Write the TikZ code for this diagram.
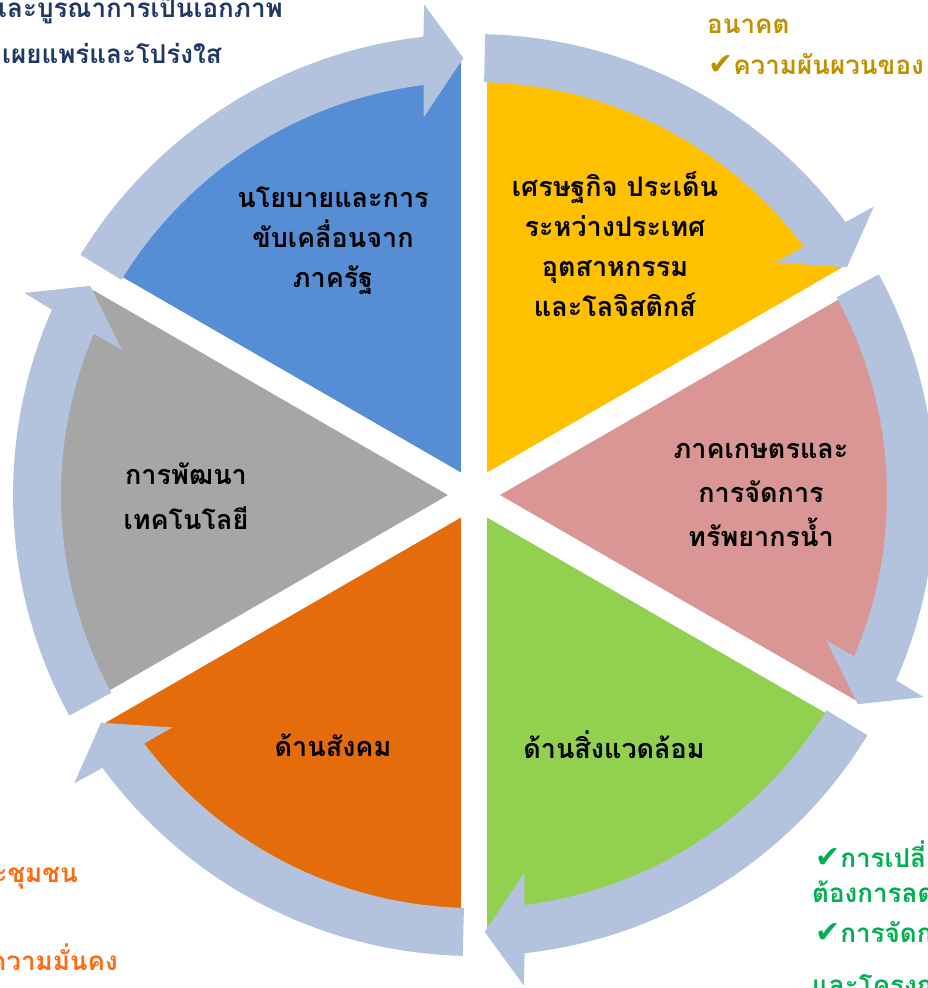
\documentclass[tikz,border=0pt]{standalone}
\usepackage{fontspec}
\newfontfamily\thai[Script=Thai]{Loma}
\newfontfamily\sym{DejaVu Sans}
\usetikzlibrary{calc}
\definecolor{cblue}{HTML}{558ED5}
\definecolor{cyellow}{HTML}{FFC000}
\definecolor{cpink}{HTML}{D99694}
\definecolor{cgreen}{HTML}{92D050}
\definecolor{corange}{HTML}{E46C0A}
\definecolor{cgray}{HTML}{A6A6A6}
\definecolor{carrow}{HTML}{B3C2DD}
\definecolor{tnavy}{HTML}{1F3864}
\definecolor{tgold}{HTML}{BF9000}
\definecolor{torange}{HTML}{FF6A13}
\definecolor{tgreen}{HTML}{00B050}
\newcommand\ck{{\sym\mdseries\fontsize{30}{30}\selectfont ✔}}
\tikzset{
  arrowfill/.style={fill=carrow},
  sectxt/.style={font=\thai\bfseries\fontsize{27}{40}\selectfont, align=center, text=black, inner sep=0pt},
  outtxt/.style={font=\thai\bfseries\fontsize{26}{30}\selectfont, inner sep=0pt},
}
\begin{document}
\begin{tikzpicture}[x=1pt,y=1pt]
\useasboundingbox (0,0) rectangle (928,-988);
\clip (0,0) rectangle (928,-988);
\coordinate (C) at (474,-495);
% sectors
\foreach \col/\m in {cyellow/60, cpink/0, cgreen/-60, corange/-120, cgray/180, cblue/120}{
  \pgfmathsetmacro\mA{\m-30}
  \pgfmathsetmacro\mB{\m+30}
  \fill[\col] ($(C)+(\m:26)$) -- ++(\mA:410) arc[start angle=\mA, end angle=\mB, radius=410] -- cycle;
}
% arrows
\foreach \S in {90,30,-30,-90,-150,150}{
  \pgfmathsetmacro\aS{\S-1.4}
  \pgfmathsetmacro\aT{\S-58.6}
  \pgfmathsetmacro\aON{\aT+4.9}
  \pgfmathsetmacro\aOB{\aT+4.4}
  \pgfmathsetmacro\aIB{\aT+6.2}
  \pgfmathsetmacro\aIN{\aT+5.6}
  \fill[arrowfill] ($(C)+(\aS:461)$) arc[start angle=\aS, end angle=\aON, radius=461]
    -- ($(C)+(\aOB:493)$) -- ($(C)+(\aT:437)$) -- ($(C)+(\aIB:381)$) -- ($(C)+(\aIN:413)$)
    arc[start angle=\aIN, end angle=\aS, radius=413] -- cycle;
}
% sector texts
\node[sectxt] (tblue) at (333,-241) {นโยบายและการ\\ขับเคลื่อนจาก\\ภาครัฐ};
\node[sectxt] (tyellow) at (615,-244) {เศรษฐกิจ ประเด็น\\ระหว่างประเทศ\\อุตสาหกรรม\\และโลจิสติกส์};
\node[sectxt, font=\thai\bfseries\fontsize{27}{44}\selectfont] (tpink) at (761,-495) {ภาคเกษตรและ\\การจัดการ\\ทรัพยากรน้ำ};
\node[sectxt, font=\thai\bfseries\fontsize{27}{45}\selectfont] (tgray) at (186,-496) {การพัฒนา\\เทคโนโลยี};
\node[sectxt] (torange) at (333,-745) {ด้านสังคม};
\node[sectxt] (tgreen) at (614,-745) {ด้านสิ่งแวดล้อม};
% outer texts
\node[outtxt, text=tnavy, anchor=base east] (n1) at (283,-17) {และบูรณาการเป็นเอกภาพ};
\node[outtxt, text=tnavy, anchor=base west] (n2) at (2,-63) {เผยแพร่และโปร่งใส};
\node[outtxt, text=tgold, anchor=base west] (g1) at (707,-33) {อนาคต};
\node[outtxt, text=tgold, anchor=base west] (g2) at (708,-74) {\ck ความผันผวนของ};
\node[outtxt, text=torange, anchor=base east] (o1) at (78,-882) {และชุมชน};
\node[outtxt, text=torange, anchor=base east] (o2) at (118,-970) {ความมั่นคง};
\node[outtxt, text=tgreen, anchor=base west] (e1) at (815,-867) {\ck การเปลี่ยน};
\node[outtxt, text=tgreen, anchor=base west] (e2) at (812,-902) {ต้องการลด};
\node[outtxt, text=tgreen, anchor=base west] (e3) at (815,-942) {\ck การจัดการ};
\node[outtxt, text=tgreen, anchor=base west] (e4) at (812,-994) {และโครงการ};
\end{tikzpicture}
\end{document}
